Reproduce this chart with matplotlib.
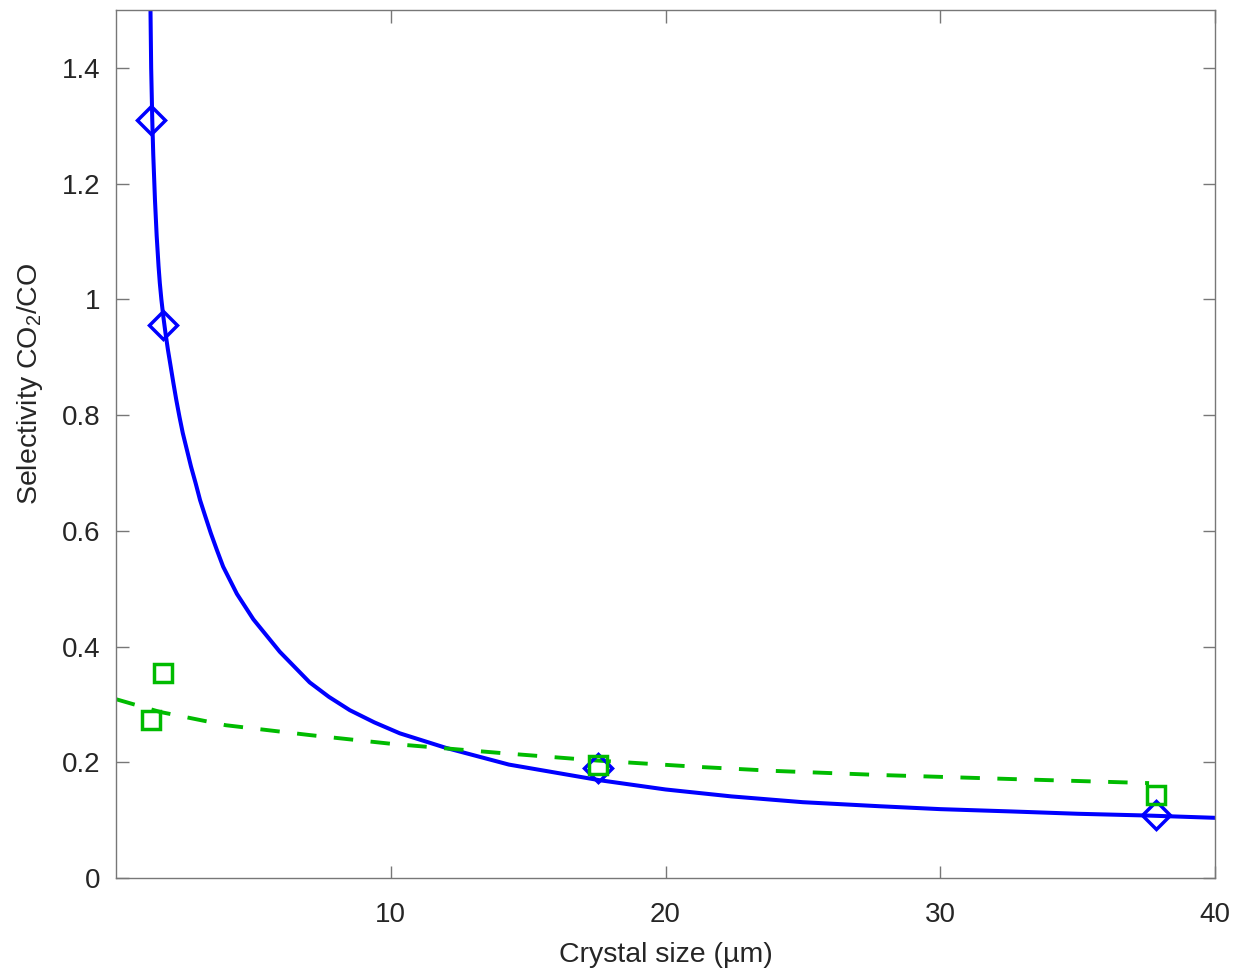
import matplotlib.pyplot as plt
import numpy as np

plt.rcParams['font.family'] = ['Liberation Sans', 'DejaVu Sans']
plt.rcParams['mathtext.fontset'] = 'custom'
plt.rcParams['mathtext.rm'] = 'Liberation Sans'
plt.rcParams['mathtext.it'] = 'Liberation Sans:italic'

# measured points
size_pts = [1.27, 1.70, 17.55, 37.85]
sel_blue = [1.31, 0.956, 0.19, 0.109]
sel_green = [0.273, 0.354, 0.195, 0.143]

# blue fit curve
fit_x = [1.255, 1.28, 1.32, 1.356, 1.418, 1.48, 1.549, 1.595, 1.651, 1.723, 1.803, 1.893,
         1.99, 2.09, 2.195, 2.31, 2.43, 2.58, 2.73, 2.9, 3.06, 3.25, 3.45, 3.67, 3.9,
         4.4, 5.0, 5.96, 7.05, 7.75, 8.51, 9.4, 10.33, 12.0, 14.3, 17.6,
         20.0, 22.4, 25.0, 27.8, 30.0, 32.6, 35.0, 37.5, 40.0]
fit_y = [1.5, 1.4, 1.31, 1.25, 1.172, 1.11, 1.057, 1.028, 1.0, 0.97, 0.941, 0.912,
         0.884, 0.855, 0.826, 0.797, 0.769, 0.74, 0.711, 0.682, 0.653, 0.625, 0.596, 0.567, 0.538,
         0.491, 0.447, 0.391, 0.338, 0.313, 0.29, 0.269, 0.25, 0.225, 0.196, 0.169,
         0.153, 0.141, 0.131, 0.124, 0.119, 0.115, 0.111, 0.108, 0.104]

# green dashed fit
gfit_x = [0.0, 1.6, 4.0, 7.05, 10.0, 14.0, 17.5, 21.2, 24.0, 27.8, 32.6, 37.6]
gfit_y = [0.309, 0.287, 0.264, 0.247, 0.232, 0.216, 0.203, 0.192, 0.185, 0.178, 0.171, 0.164]

blue = '#0000FF'
green = '#00BB00'

fig = plt.figure(figsize=(12.35, 9.68), dpi=100)
ax = fig.add_axes([116/1235, 90/968, 1099/1235, 868/968])

ax.plot(fit_x, fit_y, '-', color=blue, lw=2.9, solid_joinstyle='round')
ax.plot(gfit_x, gfit_y, '--', color=green, lw=2.8, dashes=(5, 4.5))
ax.plot(size_pts, sel_blue, 'D', color=blue, mfc='none', mew=2.5, ms=14, ls='none')
ax.plot(size_pts, sel_green, 's', color=green, mfc='none', mew=2.5, ms=13, ls='none')

ax.set_xlim(0, 40)
ax.set_ylim(0, 1.5)
ax.set_xticks([10, 20, 30, 40])
ax.set_yticks([0, 0.2, 0.4, 0.6, 0.8, 1.0, 1.2, 1.4])
ax.set_yticklabels(['0', '0.2', '0.4', '0.6', '0.8', '1', '1.2', '1.4'])
ax.tick_params(direction='in', length=9, width=1, top=True, right=True,
               labelsize=20, colors='#777777', labelcolor='#262626')
ax.tick_params(axis='x', pad=17)
ax.tick_params(axis='y', pad=11)
for s in ax.spines.values():
    s.set_color('#777777')
    s.set_linewidth(1)

ax.set_xlabel('Crystal size (µm)', fontsize=20.5, color='#262626', labelpad=10)
ax.set_ylabel('Selectivity CO$_2$/CO', fontsize=20.5, color='#262626')
ax.yaxis.set_label_coords(-0.065, 0.569)

fig.savefig('out.png', dpi=100)
